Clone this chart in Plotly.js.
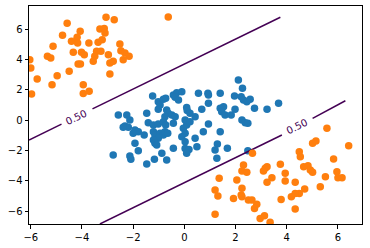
<!DOCTYPE html>
<html>
<head>
<meta charset="utf-8">
<script src="https://cdn.plot.ly/plotly-3.0.1.min.js"></script>
<style>html,body{margin:0;padding:0;background:#fff;}#chart{width:370px;height:248px;}</style>
</head>
<body>
<div id="chart"></div>
<script>
// Class 0 (blue) points
const blueX = [-1.24,-1.02,-0.95,-0.82,-0.73,-0.43,-0.30,-0.10,-0.36,-0.23,-1.02,-1.47,-2.58,-2.25,-0.69,-0.63,-0.76,-0.49,-0.36,-0.43,0.09,0.11,-2.13,-2.32,-2.19,-2.39,-1.41,-1.21,-1.02,-0.82,-0.73,-1.93,-1.80,-2.00,-1.57,-1.21,-1.15,-0.95,-0.82,-0.76,-0.65,-1.02,-1.21,-1.15,-1.08,-0.04,0.09,0.03,-0.10,-1.93,-0.43,-1.80,-2.78,-2.13,-2.09,-1.17,-0.88,-0.69,0.03,0.18,0.09,-1.47,2.11,2.27,0.55,0.92,0.94,1.40,1.96,2.22,2.31,2.44,2.57,0.94,1.98,2.74,3.23,3.68,0.22,0.42,0.68,1.40,1.53,1.46,1.59,1.83,0.03,0.22,0.94,0.74,2.25,2.38,2.48,1.40,0.42,0.03,0.49,1.29,1.20,1.27,1.68,2.48];
const blueY = [1.60,1.23,1.01,1.39,1.45,1.67,1.82,1.89,1.52,1.34,0.73,0.46,0.35,0.35,0.68,0.46,0.24,0.35,0.24,-0.20,0.84,0.65,0.02,-0.38,-0.46,-0.46,-0.16,-0.31,-0.24,-0.09,-0.31,-0.64,-0.75,-0.86,-0.97,-0.75,-0.97,-0.86,-0.97,-0.75,-0.86,-1.19,-1.30,-1.52,-1.63,-0.53,-0.31,-0.86,-1.08,-1.52,-1.85,-2.01,-2.29,-2.36,-2.57,-2.57,-2.18,-2.62,-1.86,-1.93,-2.18,-2.88,2.66,2.11,1.78,1.78,1.67,1.78,1.60,1.56,1.34,1.23,1.39,1.12,0.73,0.79,0.73,1.12,0.46,0.24,0.73,0.79,0.90,0.57,0.35,0.35,0.02,-0.09,-0.24,-0.75,0.02,-0.16,-0.20,-0.75,-1.19,-1.41,-1.74,-1.56,-1.96,-2.51,-1.85,-2.01];

// Class 1 (orange) points
const orangeX = [-4.58,-4.76,-4.07,-4.19,-4.41,-4.17,-3.73,-3.30,-3.13,-3.06,-2.74,-3.10,-3.37,-3.21,-5.13,-4.34,-4.02,-3.91,-3.43,-3.26,-3.50,-3.56,-5.35,-5.22,-6.04,-6.00,-4.15,-4.06,-4.50,-4.97,-5.75,-5.17,-3.95,-3.95,-3.72,-5.97,-2.52,-2.48,-2.32,-2.16,-2.39,-2.97,-2.91,-2.78,-2.91,-0.63,
  2.66,2.31,2.25,2.44,3.16,3.23,3.09,3.42,3.23,1.36,2.05,1.20,1.31,2.25,2.22,2.25,1.92,2.50,2.64,2.83,2.74,3.78,1.20,2.96,3.13,3.35,5.57,5.01,5.14,6.42,4.49,4.53,5.83,3.75,4.66,4.83,4.92,5.01,3.94,5.51,5.96,6.00,6.16,3.94,4.33,5.31,4.70,4.49,4.33,4.18,4.33];
const orangeY = [6.40,5.61,5.87,5.48,5.21,5.10,5.10,6.03,6.05,6.79,6.64,5.76,5.15,5.32,4.88,4.49,4.49,4.33,4.55,4.55,4.22,3.89,4.22,4.11,4.00,3.45,3.72,3.72,3.23,2.94,2.73,2.35,2.35,1.76,1.91,1.74,5.04,4.59,4.44,4.22,4.00,4.33,3.78,3.89,3.06,6.82,
  -2.18,-2.95,-3.35,-3.43,-3.17,-3.06,-3.35,-3.79,-4.09,-3.83,-3.94,-4.60,-5.00,-4.49,-4.93,-5.04,-5.15,-5.26,-5.26,-5.54,-5.81,-5.23,-6.20,-6.47,-6.30,-6.73,-0.53,-1.52,-1.37,-1.68,-2.07,-2.40,-2.55,-2.90,-3.06,-3.00,-3.28,-3.43,-3.50,-3.72,-3.39,-3.79,-3.79,-4.01,-4.09,-4.38,-4.53,-4.82,-4.82,-5.04,-5.85];

// 0.50 decision-boundary contour (two branches, each broken where its label sits)
const upperX = [-6.07,-4.80,null,-3.59,3.75];
const upperY = [-1.30,-0.25,null,0.75,6.80];
const lowerX = [-3.30,3.81,null,5.01,6.29];
const lowerY = [-6.84,-0.97,null,0.13,1.29];
const contourLabel = "0.50";
const labelX = [-4.24,4.40];
const labelY = [0.20,-0.43];

const tickVals = [-6,-4,-2,0,2,4,6];

const lineColor = '#440154';
const traces = [
  {x: blueX, y: blueY, type: 'scatter', mode: 'markers', marker: {color: '#1f77b4', size: 7.5}, hoverinfo: 'skip'},
  {x: upperX, y: upperY, type: 'scatter', mode: 'lines', line: {color: lineColor, width: 1.5}, connectgaps: false, hoverinfo: 'skip'},
  {x: lowerX, y: lowerY, type: 'scatter', mode: 'lines', line: {color: lineColor, width: 1.5}, connectgaps: false, hoverinfo: 'skip'},
  {x: orangeX, y: orangeY, type: 'scatter', mode: 'markers', marker: {color: '#ff7f0e', size: 7.5}, hoverinfo: 'skip'}
];

const axisCommon = {
  showgrid: false, zeroline: false, showline: true, mirror: true,
  linecolor: '#000', linewidth: 1, ticks: 'outside', ticklen: 3.5, tickwidth: 1, tickcolor: '#000',
  tickfont: {family: 'DejaVu Sans', size: 10, color: '#000'}, tickvals: tickVals
};

const layout = {
  width: 370, height: 248,
  margin: {l: 29, r: 8, t: 6, b: 24, pad: 0},
  showlegend: false,
  paper_bgcolor: '#fff', plot_bgcolor: '#fff',
  xaxis: Object.assign({range: [-6.07, 6.94]}, axisCommon),
  yaxis: Object.assign({range: [-6.84, 7.54]}, axisCommon),
  annotations: labelX.map((lx, i) => ({
    x: lx, y: labelY[i], xref: 'x', yref: 'y', text: contourLabel, showarrow: false,
    textangle: -26, font: {family: 'DejaVu Sans', size: 10, color: lineColor}
  }))
};

Plotly.newPlot('chart', traces, layout, {staticPlot: true, displayModeBar: false});
</script>
</body>
</html>
